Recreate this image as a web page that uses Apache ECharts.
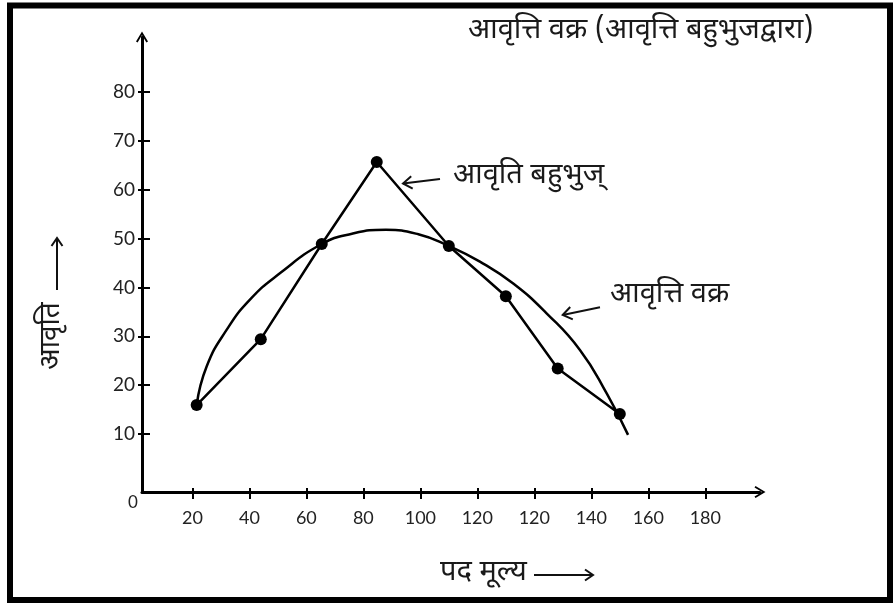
<!DOCTYPE html>
<html><head><meta charset="utf-8">
<script src="https://cdn.jsdelivr.net/npm/echarts@6/dist/echarts.min.js"></script>
<style>html,body{margin:0;padding:0;background:#fff}#c{width:896px;height:605px}</style>
</head><body><div id="c"></div>
<script>
// x values are in axis units where the ticks sit at 20,40,...,200; printed labels as in the source
const xTickValues = [20, 40, 60, 80, 100, 120, 140, 160, 180, 200];
const xTickLabels = ['20', '40', '60', '80', '100', '120', '120', '140', '160', '180'];
const yTickValues = [10, 20, 30, 40, 50, 60, 70, 80];
const polygonX = [21.5, 44, 65.4, 84.7, 110, 130, 148.2, 170];
const polygonY = [15.9, 29.4, 48.9, 65.7, 48.5, 38.2, 23.4, 14.1];
const curveX = [21.5, 25.0, 32.0, 40.2, 50.7, 65.4, 76.0, 87.9, 99.3, 110.0, 120.9, 132.6, 144.3, 156.0, 165.4, 172.9];
const curveY = [15.9, 23.8, 31.3, 37.5, 42.9, 48.9, 51.0, 51.8, 50.9, 48.5, 45.3, 40.8, 34.7, 27.2, 18.3, 9.8];
const titleText = 'आवृत्ति वक्र (आवृत्ति बहुभुजद्वारा)';
const polygonLabel = 'आवृति बहुभुज्';
const curveLabel = 'आवृत्ति वक्र';
const xName = 'पद मूल्य';
const yName = 'आवृति';

const FONT = '"Noto Sans Devanagari", "Noto Sans", "Lohit Devanagari", sans-serif';
const NUMFONT = '"Lato", "DejaVu Sans", sans-serif';
const chevron = 'path://M0,10 L6,0 L12,10 L10.4,11 L6,3.4 L1.6,11 Z';

const chart = echarts.init(document.getElementById('c'), null, {renderer: 'canvas'});

function arrow(points, tip, arms) {
  return [
    {type: 'polyline', shape: {points: points}, style: {stroke: '#111', lineWidth: 2, fill: null}, z: 10},
    {type: 'polyline', shape: {points: [arms[0], tip, arms[1]]}, style: {stroke: '#111', lineWidth: 2, fill: null}, z: 10}
  ];
}

const commonX = {type: 'value', gridIndex: 0, min: 2.316, max: 219.2, splitLine: {show: false}};
const commonY = {type: 'value', gridIndex: 0, min: -1.9, max: 91.3, splitLine: {show: false}};

const option = {
  backgroundColor: '#fff',
  animation: false,
  grid: {left: 142, right: 136, top: 37, bottom: 113, containLabel: false, outerBoundsMode: 'none'},
  xAxis: [
    Object.assign({}, commonX, {
      position: 'bottom',
      axisLine: {show: true, onZero: false, symbol: ['none', chevron], symbolSize: [13, 11], lineStyle: {color: '#000', width: 3}},
      axisTick: {show: true, inside: false, length: 7, customValues: xTickValues, lineStyle: {color: '#000', width: 2}},
      axisLabel: {show: true, customValues: xTickValues, margin: 17, fontSize: 18, color: '#222', fontFamily: NUMFONT,
        formatter: function (v) { const i = xTickValues.indexOf(v); return i >= 0 ? xTickLabels[i] : ''; }}
    }),
    Object.assign({}, commonX, {
      position: 'bottom',
      axisLine: {show: false, onZero: false},
      axisTick: {show: true, inside: true, length: 4, customValues: xTickValues, lineStyle: {color: '#000', width: 2}},
      axisLabel: {show: false}
    })
  ],
  yAxis: [
    Object.assign({}, commonY, {
      position: 'left',
      axisLine: {show: true, onZero: false, symbol: ['none', chevron], symbolSize: [13, 11], lineStyle: {color: '#000', width: 3}},
      axisTick: {show: true, inside: false, length: 4, customValues: yTickValues, lineStyle: {color: '#000', width: 2}},
      axisLabel: {show: true, customValues: yTickValues, margin: 7, fontSize: 19, color: '#222', fontFamily: NUMFONT}
    }),
    Object.assign({}, commonY, {
      position: 'left',
      axisLine: {show: false, onZero: false},
      axisTick: {show: true, inside: true, length: 8, customValues: yTickValues, lineStyle: {color: '#000', width: 2}},
      axisLabel: {show: false}
    })
  ],
  series: [
    {
      name: curveLabel, type: 'line', xAxisIndex: 0, yAxisIndex: 0,
      data: curveX.map((x, i) => [x, curveY[i]]),
      smooth: 0.5, showSymbol: false, symbol: 'none',
      lineStyle: {color: '#000', width: 2.5}, z: 3
    },
    {
      name: polygonLabel, type: 'line', xAxisIndex: 0, yAxisIndex: 0,
      data: polygonX.map((x, i) => [x, polygonY[i]]),
      smooth: false, symbol: 'circle', symbolSize: 12,
      itemStyle: {color: '#000'}, lineStyle: {color: '#000', width: 2.5}, z: 4
    }
  ],
  graphic: [
    {type: 'rect', shape: {x: 10, y: 5.5, width: 880, height: 594.5}, style: {fill: null, stroke: '#000', lineWidth: 6}, z: 20},
    {type: 'text', x: 468, y: 33, style: {text: titleText, font: '29px ' + FONT, fill: '#1a1a1a', align: 'left', verticalAlign: 'middle'}, z: 10},
    {type: 'text', x: 453, y: 178, style: {text: polygonLabel, font: '29px ' + FONT, fill: '#1a1a1a', align: 'left', verticalAlign: 'middle'}, z: 10},
    {type: 'text', x: 610, y: 297, style: {text: curveLabel, font: '29px ' + FONT, fill: '#1a1a1a', align: 'left', verticalAlign: 'middle'}, z: 10},
    {type: 'text', x: 440, y: 575, style: {text: xName, font: '29px ' + FONT, fill: '#1a1a1a', align: 'left', verticalAlign: 'middle'}, z: 10},
    {type: 'text', x: 54, y: 336, rotation: Math.PI / 2, style: {text: yName, font: '28px ' + FONT, fill: '#1a1a1a', align: 'center', verticalAlign: 'middle'}, z: 10},
    {type: 'text', x: 133, y: 503, style: {text: '0', font: '17px ' + NUMFONT, fill: '#222', align: 'center', verticalAlign: 'middle'}, z: 10}
  ].concat(
    arrow([[440, 179], [403, 183.5]], [403, 183.5], [[411.2, 176.2], [412.7, 188.7]]),
    arrow([[600, 307.3], [562.7, 315]], [562.7, 315], [[570.2, 307], [572.8, 319.4]]),
    arrow([[57, 290], [57, 238]], [57, 238], [[51.5, 246], [62.5, 246]]),
    arrow([[534, 575], [593, 575]], [593, 575], [[585, 569.5], [585, 580.5]])
  )
};
chart.setOption(option);
</script>
</body></html>
